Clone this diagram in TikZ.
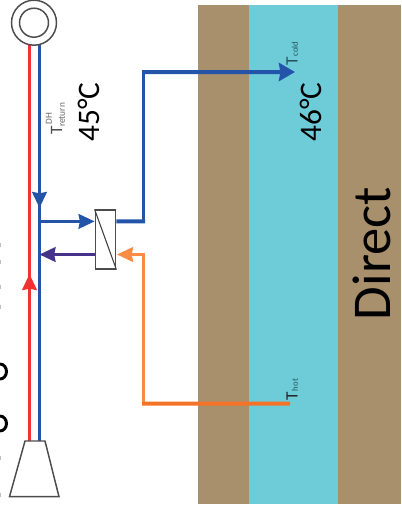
\documentclass[tikz,border=0pt]{standalone}
\usepackage{fontspec}
\setmainfont{Carlito}
\usepackage{xcolor}
\usetikzlibrary{arrows.meta}
\definecolor{soil}{RGB}{167,144,107}
\definecolor{aquifer}{RGB}{110,204,216}
\definecolor{coldblue}{RGB}{36,84,170}
\definecolor{hotred}{RGB}{240,50,50}
\definecolor{hotorange}{RGB}{245,115,40}
\definecolor{palorange}{RGB}{250,140,70}
\definecolor{mixviolet}{RGB}{70,50,140}
\definecolor{darktxt}{RGB}{35,85,90}
\tikzset{
  pipe/.style={line width=2.2pt},
  thickpipe/.style={line width=3pt},
  flow/.style={-{Stealth[length=12pt,width=11pt,inset=1pt]}},
  bigflow/.style={-{Stealth[length=12pt,width=13.5pt,inset=1pt]}},
  unit/.style={draw=black!70,line width=1pt,fill=white},
  rotlabel/.style={rotate=90,inner sep=0pt}
}
\begin{document}
\begin{tikzpicture}[x=1pt,y=-1pt,xscale=0.75,yscale=0.75]
\useasboundingbox (0,0) rectangle (401,511);
% ground layers
\fill[soil] (198,4.5) rectangle (401,503.5);
\fill[aquifer] (249,4.5) rectangle (338,503.5);
% text cut off at the edge
\draw[line width=2.2pt,black] (0,379) arc[start angle=90,end angle=-90,x radius=6.5,y radius=7.5];
\draw[line width=2.2pt,black] (0,431) arc[start angle=90,end angle=-90,x radius=6.5,y radius=7.5];
\foreach \y in {245,262,287,307,458,495}{
\fill[black!25] (0,\y-2) rectangle (1.2,\y+2);
}
% well pipes
\draw[pipe,hotred] (29.5,441) -- (29.5,44);
\draw[pipe,coldblue] (39.5,44) -- (39.5,441);
\draw[pipe,hotred,flow] (29.5,310) -- (29.5,274);
\draw[pipe,coldblue,flow] (39.5,160) -- (39.5,208);
% heat exchanger
\node[unit,minimum width=20.5*0.75pt,minimum height=59*0.75pt,inner sep=0pt] (hx) at (105.5,239.5) {};
\draw[black!75,line width=0.8pt] (hx.north west) -- (hx.south east);
% connections
\coordinate (coldtap) at (39.5,221.4);
\coordinate (coldend) at (295,72);
\coordinate (mixtap) at (39.5,254.5);
\coordinate (hotend) at (290,403.5);
\draw[pipe,coldblue,flow] (coldtap) -- (hx.west |- coldtap);
\draw[thickpipe,coldblue] (hx.east |- coldtap) -- (145,221.4);
\draw[pipe,coldblue] (143.5,222) -- (143.5,71);
\draw[thickpipe,coldblue,bigflow] (142,72) -- (coldend);
\draw[pipe,mixviolet,flow] (hx.west |- mixtap) -- (mixtap);
\draw[pipe,palorange] (143.5,403.5) -- (143.5,253.5);
\draw[pipe,palorange,flow] (144.5,254.5) -- (117,254.5);
\draw[thickpipe,hotorange] (hotend) -- (142,403.5);
% top and bottom of the well
\node[circle,draw=black!70,line width=1.1pt,fill=white,minimum size=45*0.75pt,inner sep=0pt] (wellouter) at (34,22.7) {};
\node[circle,draw=black!70,line width=1.1pt,minimum size=29*0.75pt,inner sep=0pt] (wellinner) at (34,22.7) {};
\draw[draw=black!70,line width=1.1pt,fill=white] (25,441) -- (45,441) -- (59,496.7) -- (9.5,496.7) -- cycle;
% labels
\node[rotlabel,font=\fontsize{23.5}{26}\selectfont] (tempreturn) at (89,112) {45°C};
\node[rotlabel,font=\fontsize{23.5}{26}\selectfont] (tempcold) at (311,112) {46°C};
\node[rotlabel,font=\fontsize{41}{44}\selectfont] (direct) at (371.5,253.5) {Direct};
\node[rotlabel,font=\fontsize{13}{14}\selectfont,text=black!70] (treturn) at (56.5,130) {T};
\node[rotlabel,font=\fontsize{7}{8}\selectfont,text=black!60] (treturnsub) at (62,115) {return};
\node[rotlabel,font=\fontsize{7}{8}\selectfont,text=black!60] (treturnsup) at (49,118.5) {DH};
\node[rotlabel,font=\fontsize{13}{14}\selectfont,text=darktxt] (tcold) at (292,61) {T};
\node[rotlabel,font=\fontsize{6.5}{8}\selectfont,text=darktxt] (tcoldsub) at (295,49) {cold};
\node[rotlabel,font=\fontsize{13}{14}\selectfont,text=black!85] (thot) at (292,396) {T};
\node[rotlabel,font=\fontsize{6.5}{8}\selectfont,text=darktxt] (thotsub) at (295,385) {hot};
\end{tikzpicture}
\end{document}
